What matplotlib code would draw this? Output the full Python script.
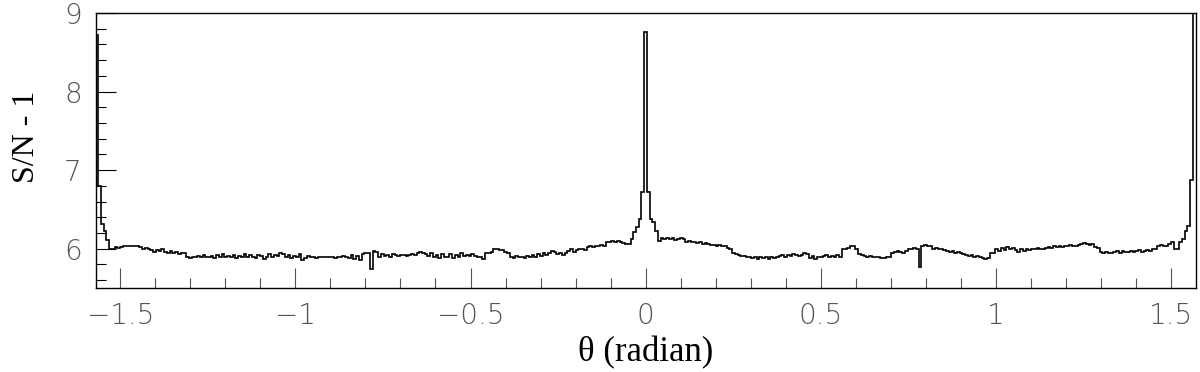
import numpy as np
import matplotlib.pyplot as plt
from matplotlib.ticker import MultipleLocator, FuncFormatter

plt.rcParams['font.family'] = 'DejaVu Sans'
plt.rcParams['font.weight'] = 'light'

# theta range of the histogram (radian)
theta_min, theta_max = -np.pi / 2, np.pi / 2

# S/N - 1 per bin, left to right
sn = [
    # -pi/2 edge and left flank
    8.72, 6.80, 6.32, 6.22, 6.11, 6.00,
    5.99, 6.02, 6.01, 6.02,
    6.04, 6.03, 6.04, 6.04, 6.03, 6.04,
    6.02, 5.99, 6.01, 6.00,
    5.98, 5.96, 5.98, 5.97, 5.99, 5.96,
    5.95, 5.97, 5.94, 5.96, 5.93, 5.95, 5.94,
    5.89, 5.88, 5.90, 5.89,
    5.91, 5.90, 5.92, 5.89, 5.90, 5.91, 5.88, 5.92, 5.90, 5.93,
    5.89, 5.91, 5.90, 5.92, 5.88, 5.91, 5.90, 5.93, 5.89, 5.92,
    5.90, 5.88, 5.92, 5.91, 5.87, 5.90, 5.93, 5.89, 5.92, 5.91, 5.94,
    # around -pi/4
    5.93, 5.90, 5.92, 5.88, 5.91, 5.89, 5.93,
    5.86, 5.88,
    5.91, 5.89, 5.90, 5.88, 5.89, 5.90, 5.89, 5.89, 5.90, 5.89, 5.88, 5.90, 5.89,
    5.91, 5.90,
    5.88, 5.92, 5.87, 5.91, 5.86, 5.93,
    5.95, 5.94,
    5.74,
    5.97, 5.96,
    5.90, 5.93, 5.91, 5.92, 5.90, 5.93,
    5.92, 5.91, 5.92, 5.92, 5.91, 5.92, 5.93, 5.92,
    5.95, 5.96, 5.94, 5.93,
    5.91, 5.94, 5.89, 5.92, 5.88, 5.93, 5.90, 5.89, 5.93, 5.88, 5.92, 5.90, 5.94, 5.91,
    # rising toward 0
    5.92, 5.91, 5.93, 5.91, 5.90, 5.89,
    5.87,
    5.95, 5.94, 5.96,
    5.99, 5.99, 5.98, 5.98,
    5.96, 5.95,
    5.90, 5.88, 5.91, 5.89, 5.90, 5.88, 5.91, 5.90, 5.92, 5.90, 5.93, 5.91, 5.94, 5.92, 5.95,
    5.97, 5.96,
    5.93, 5.94, 5.92, 5.95,
    5.97, 5.99, 5.96, 5.98, 5.99, 6.00, 5.98,
    6.02, 6.03, 6.02, 6.04, 6.03, 6.05, 6.04,
    6.08, 6.09, 6.10, 6.09, 6.10, 6.09,
    6.07, 6.06, 6.06,
    6.12, 6.21, 6.28, 6.38, 6.72,
    # theta = 0
    8.76,
    6.72, 6.38, 6.34, 6.23, 6.10,
    6.13, 6.12, 6.14, 6.12, 6.13, 6.11, 6.12,
    6.13, 6.12,
    6.09, 6.10, 6.08, 6.09,
    6.07, 6.08, 6.06, 6.07, 6.06, 6.05,
    6.05, 6.04, 6.05, 6.03, 6.04,
    6.01, 5.99,
    5.94, 5.93,
    5.92, 5.91, 5.91,
    5.89, 5.90, 5.88, 5.89, 5.87, 5.89, 5.88, 5.90, 5.87, 5.89, 5.88, 5.90,
    5.91, 5.92, 5.90, 5.92, 5.91, 5.93, 5.92, 5.91, 5.92,
    5.95, 5.93,
    5.88, 5.91, 5.87, 5.90, 5.89, 5.91, 5.92, 5.90,
    # around +pi/4
    5.91, 5.89, 5.92, 5.90,
    5.99, 6.00, 6.01, 6.04, 6.03,
    6.00,
    5.93, 5.92,
    5.91, 5.90, 5.91, 5.90, 5.89, 5.90,
    5.88, 5.88, 5.89, 5.89,
    5.95, 5.96, 5.97, 5.96, 5.95, 5.97,
    6.00, 5.99, 6.01, 6.00,
    5.77,
    6.04, 6.05, 6.03, 6.04,
    6.00, 6.01, 5.99, 6.00,
    5.98, 5.97, 5.96, 5.97, 5.95, 5.96, 5.95,
    5.93, 5.92, 5.91, 5.92, 5.90, 5.91, 5.89,
    5.88, 5.87, 5.88,
    5.95, 5.94,
    6.00, 5.97, 6.01, 5.98, 6.02, 5.99, 6.01,
    # right flank and +pi/2 edge
    5.98, 5.96, 5.99, 5.97, 5.99, 5.98, 6.00,
    6.00, 6.01, 5.99, 6.00, 6.01,
    6.02, 6.01, 6.03, 6.02, 6.03, 6.02,
    6.04, 6.03, 6.05, 6.04, 6.04, 6.05,
    6.06, 6.07, 6.06, 6.05, 6.06,
    6.02, 6.01,
    5.96, 5.95, 5.96, 5.94, 5.95,
    5.96, 5.97, 5.95, 5.97, 5.96, 5.96,
    5.97, 5.96, 5.97, 5.98, 5.96, 5.97, 5.98, 5.97,
    6.00, 6.00,
    6.04, 6.05, 6.03, 6.04,
    6.06, 6.08,
    6.00, 6.00,
    6.08, 6.12, 6.23, 6.29, 6.88, 9.50,
]

edges = np.linspace(theta_min, theta_max, len(sn) + 1)

fig = plt.figure(figsize=(12, 3.72), dpi=100)
ax = fig.add_axes([0.0796, 0.2258, 0.9168, 0.7393])

ax.stairs(sn, edges, baseline=None, color='black', linewidth=1.2)

ax.set_xlim(theta_min, theta_max)
ax.set_ylim(5.5, 9)

ax.xaxis.set_major_locator(MultipleLocator(0.5))
ax.xaxis.set_minor_locator(MultipleLocator(0.1))
ax.yaxis.set_major_locator(MultipleLocator(1))
ax.yaxis.set_minor_locator(MultipleLocator(0.2))
fmt = FuncFormatter(lambda v, p: '{:g}'.format(round(v, 2)).replace('-', '\u2212'))
ax.xaxis.set_major_formatter(fmt)
ax.yaxis.set_major_formatter(fmt)

ax.tick_params(axis='both', which='both', direction='in', width=0.8,
               labelsize=20, labelcolor='#555555', pad=10)
ax.tick_params(axis='both', which='major', length=14.4)
ax.tick_params(axis='both', which='minor', length=7.2)
ax.tick_params(axis='x', which='both', color='#555555')

for s in ax.spines.values():
    s.set_linewidth(1.0)

ax.set_xlabel('θ (radian)', family='Liberation Serif', fontweight='normal', fontsize=25)
ax.set_ylabel('S/N - 1', family='Liberation Serif', fontweight='normal', fontsize=23)
ax.xaxis.set_label_coords(0.5, -0.175)
ax.yaxis.set_label_coords(-0.05, 0.55)

plt.savefig('out.png', dpi=100)
